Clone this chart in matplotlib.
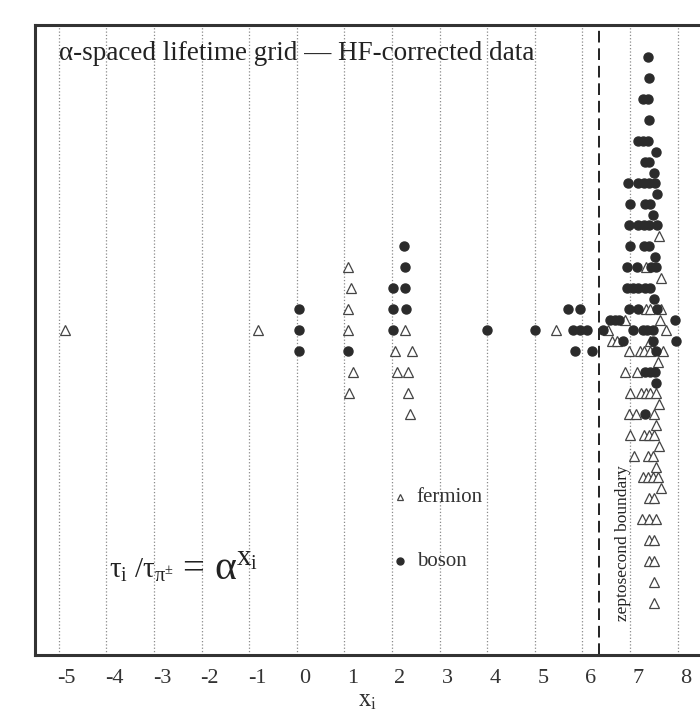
import matplotlib
matplotlib.use("Agg")
import matplotlib.pyplot as plt
import matplotlib.transforms as mtransforms

plt.rcParams['font.family'] = 'Liberation Serif'
plt.rcParams['mathtext.fontset'] = 'stix'

# === Данные: x_i и номер строки (вертикальное положение точки) ===
boson_x = [0.05, 0.05, 0.05, 1.07,
           2.25, 2.28, 2.02, 2.28, 2.02, 2.30, 2.02,
           4.0, 5.0, 5.70, 5.95, 5.80, 5.95, 6.10, 5.84, 6.20, 6.43,
           6.58, 6.68, 6.76, 6.85,
           7.37, 7.40, 7.27, 7.37, 7.40, 7.17, 7.27, 7.37, 7.55, 7.32, 7.40, 7.50,
           6.96, 7.17, 7.29, 7.40, 7.53, 7.57, 7.00, 7.32, 7.42, 7.48,
           6.98, 7.17, 7.29, 7.40, 7.57, 7.00, 7.29, 7.40, 7.52,
           6.94, 7.15, 7.44, 7.55, 6.94, 7.06, 7.17, 7.31, 7.42, 7.50,
           6.98, 7.17, 7.57, 7.94, 7.06, 7.27, 7.35, 7.48, 7.48, 7.96,
           7.54, 7.31, 7.42, 7.52, 7.54, 7.31]
boson_y = [2, 0, -2, -2,
           8, 6, 4, 4, 2, 2, 0,
           0, 0, 2, 2, 0, 0, 0, -2, -2, 0,
           1, 1, 1, -1,
           26, 24, 22, 22, 20, 18, 18, 18, 17, 16, 16, 15,
           14, 14, 14, 14, 14, 13, 12, 12, 12, 11,
           10, 10, 10, 10, 10, 8, 8, 8, 7,
           6, 6, 6, 6, 4, 4, 4, 4, 4, 3,
           2, 2, 2, 1, 0, 0, 0, 0, -1, -1,
           -2, -4, -4, -4, -5, -8]

fermion_x = [-4.87, -0.82,
             1.07, 1.13, 1.07, 1.07, 1.18, 1.09,
             2.27, 2.07, 2.42, 2.10, 2.33, 2.33, 2.38,
             5.45, 6.53, 6.90, 6.62, 6.72,
             7.60, 7.33, 7.65, 7.33, 7.42, 7.65, 7.62, 7.75, 7.42,
             6.98, 7.21, 7.29, 7.42, 7.69, 7.58, 6.90, 7.15,
             7.00, 7.23, 7.33, 7.42, 7.54, 7.60, 6.98, 7.13, 7.50, 7.54,
             7.00, 7.29, 7.40, 7.50, 7.60, 7.08, 7.38, 7.48, 7.54,
             7.27, 7.38, 7.48, 7.58, 7.65, 7.40, 7.50,
             7.25, 7.40, 7.55, 7.40, 7.50, 7.40, 7.50, 7.50, 7.50]
fermion_y = [0, 0,
             6, 4, 2, 0, -4, -6,
             0, -2, -2, -4, -4, -6, -8,
             0, 0, 1, -1, -1,
             9, 6, 5, 2, 2, 2, 1, 0, -1,
             -2, -2, -2, -2, -2, -3, -4, -4,
             -6, -6, -6, -6, -6, -7, -8, -8, -8, -9,
             -10, -10, -10, -10, -11, -12, -12, -12, -13,
             -14, -14, -14, -14, -15, -16, -16,
             -18, -18, -18, -20, -20, -22, -22, -24, -26]

tick_values = list(range(-5, 9))
boundary_x = 6.35

# === График ===
fig = plt.figure(figsize=(7.0, 7.13), dpi=100)
ax = fig.add_axes([0.05, 0.081, 0.95, 0.884])

for t in tick_values:
    ax.axvline(t, color='#8a8a8a', linestyle=':', linewidth=0.9, zorder=1)

ax.axvline(boundary_x, color='#222222', linestyle=(0, (6, 3)), linewidth=1.4, zorder=2)

ax.plot(fermion_x, fermion_y, '^', markersize=6.8, markerfacecolor='white',
        markeredgecolor='#444444', markeredgewidth=0.9, linestyle='none', zorder=3)
ax.plot(boson_x, boson_y, 'o', markersize=6.5, color='#2b2b2b',
        linestyle='none', zorder=4)

# подписи внутри поля
ax.text(-5.0, 26.3, 'α-spaced lifetime grid — HF-corrected data', fontsize=19.5,
        color='#222222', va='center', ha='left')
ax.text(-3.95, -22.9, r'$\mathregular{\tau_i\ /\tau_{\pi^{\pm}}}$', fontsize=21,
        color='#222222', va='center', ha='left')
ax.text(-2.4, -22.8, '=', fontsize=28, color='#222222', va='center', ha='left')
ax.text(-1.75, -22.7, r'$\mathregular{\alpha^{x_i}}$', fontsize=30,
        color='#222222', va='center', ha='left')
ax.plot([2.17], [-15.9], '^', markersize=5, markerfacecolor='white',
        markeredgecolor='#444444', markeredgewidth=0.9)
ax.text(2.52, -15.9, 'fermion', fontsize=15, color='#333333', va='center', ha='left')
ax.plot([2.17], [-22.0], 'o', markersize=5, color='#2b2b2b')
ax.text(2.52, -22.0, 'boson', fontsize=15, color='#333333', va='center', ha='left')
ax.text(6.85, -20.3, 'zeptosecond boundary', fontsize=12.5, color='#222222',
        rotation=90, va='center', ha='center')

ax.set_xlim(-5.5, 8.47)
ax.set_ylim(-30.95, 29.05)
ax.set_xticks(tick_values)
ax.set_xticklabels([str(t) for t in tick_values], fontsize=16, color='#333333')
ax.set_yticks([])
ax.tick_params(axis='x', length=0, pad=10)
offset = mtransforms.ScaledTranslation(8 / 100, 0, fig.dpi_scale_trans)
for lbl in ax.get_xticklabels():
    lbl.set_transform(lbl.get_transform() + offset)
ax.set_xlabel(r'$\rm x_i$', fontsize=18, color='#333333', labelpad=1)

for side in ['left', 'top', 'bottom']:
    ax.spines[side].set_linewidth(2.2)
    ax.spines[side].set_color('#333333')
ax.spines['right'].set_visible(False)

plt.savefig('out.png', dpi=100)
